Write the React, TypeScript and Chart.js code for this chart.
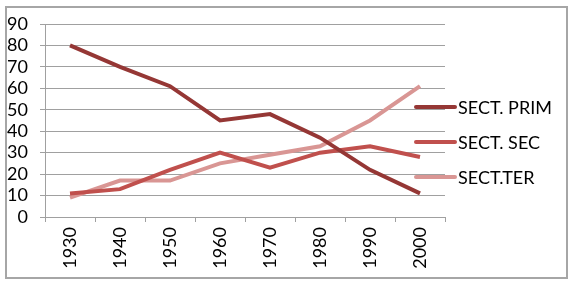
import React, { useEffect, useRef } from "react";
import { Chart, registerables } from "chart.js";

Chart.register(...registerables);

const categories = ["1930", "1940", "1950", "1960", "1970", "1980", "1990", "2000"];
const primValues = [80, 70, 61, 45, 48, 37, 22, 11];
const secValues = [11, 13, 22, 30, 23, 30, 33, 28];
const terValues = [9, 17, 17, 25, 29, 33, 45, 61];
const seriesNames = ["SECT. PRIM", "SECT. SEC", "SECT.TER"];
const seriesColors = ["#953735", "#C0504D", "#D99694"];

const FONT = "Lato, 'Liberation Sans', sans-serif";

const legendPlugin = {
  id: "sideLegend",
  afterDraw(chart: any) {
    const ctx = chart.ctx;
    const area = chart.chartArea;
    const startY = area.top + 83;
    const gap = 35;
    ctx.save();
    chart.data.datasets.forEach((ds: any, i: number) => {
      const y = startY + i * gap;
      ctx.strokeStyle = ds.borderColor;
      ctx.lineWidth = 4;
      ctx.lineCap = "round";
      ctx.beginPath();
      ctx.moveTo(area.right - 29, y);
      ctx.lineTo(area.right + 10, y);
      ctx.stroke();
      ctx.fillStyle = "#000";
      ctx.font = `18px ${FONT}`;
      ctx.textBaseline = "middle";
      ctx.textAlign = "left";
      ctx.fillText(ds.label, area.right + 13, y + 1);
    });
    ctx.restore();
  },
};

export default function App() {
  const canvasRef = useRef<HTMLCanvasElement | null>(null);

  useEffect(() => {
    if (!canvasRef.current) return;
    const chart = new Chart(canvasRef.current, {
      type: "line",
      data: {
        labels: categories,
        datasets: [primValues, secValues, terValues].map((vals, i) => ({
          label: seriesNames[i],
          data: vals,
          borderColor: seriesColors[i],
          backgroundColor: seriesColors[i],
          borderWidth: 4,
          pointRadius: 0,
          tension: 0,
          fill: false,
        })),
      },
      options: {
        responsive: false,
        animation: false,
        layout: { padding: { top: 24, right: 129, bottom: 0, left: 0 } },
        plugins: {
          legend: { display: false },
          tooltip: { enabled: false },
        },
        scales: {
          x: {
            offset: true,
            grid: {
              offset: true,
              drawOnChartArea: false,
              drawTicks: true,
              tickLength: 5,
              color: "#a0a0a0",
            },
            border: { display: true, color: "#a0a0a0" },
            ticks: {
              autoSkip: false,
              minRotation: 90,
              maxRotation: 90,
              padding: 5,
              color: "#000",
              font: { size: 18, family: FONT },
            },
            afterFit: (scale: any) => {
              scale.height = 68;
            },
          },
          y: {
            min: 0,
            max: 90,
            ticks: {
              autoSkip: false,
              stepSize: 10,
              padding: 12,
              color: "#000",
              font: { size: 18, family: FONT },
            },
            grid: {
              color: "#a0a0a0",
              tickLength: 5,
              drawTicks: true,
            },
            border: { display: true, color: "#a0a0a0" },
            afterFit: (scale: any) => {
              scale.width = 45;
            },
          },
        },
      },
      plugins: [legendPlugin],
    });
    return () => chart.destroy();
  }, []);

  return (
    <div
      style={{
        position: "fixed",
        left: 0,
        top: 0,
        width: 574,
        height: 285,
        background: "#fff",
      }}
    >
      <div
        style={{
          position: "absolute",
          left: 5,
          top: 6,
          width: 563,
          height: 273,
          border: "2px solid #a6a6a6",
          boxSizing: "border-box",
        }}
      />
      <canvas
        ref={canvasRef}
        width={574}
        height={285}
        style={{ position: "absolute", left: 0, top: 0, width: 574, height: 285 }}
      />
    </div>
  );
}
